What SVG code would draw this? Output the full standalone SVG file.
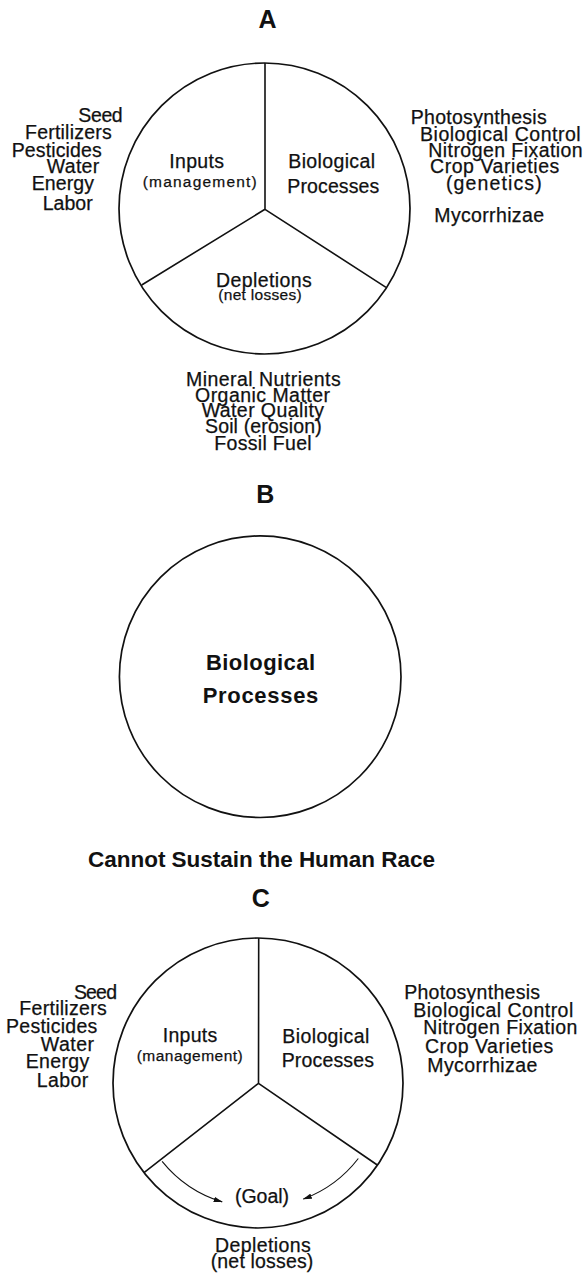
<svg xmlns="http://www.w3.org/2000/svg" width="587" height="1276" viewBox="0 0 587 1276">
  <style>
    text { font-family: "Liberation Sans", Arial, Helvetica, sans-serif; fill: #111; stroke: #111; stroke-width: 0.25; }
    .t { font-size: 19.5px; }
    .s { font-size: 15.5px; }
    .h { font-size: 25px; font-weight: bold; text-anchor: middle; stroke-width: 0; }
    .b { font-size: 22px; font-weight: bold; stroke-width: 0; }
    .ring { fill: none; stroke: #111; stroke-width: 1.7; }
    .spoke { fill: none; stroke: #111; stroke-width: 1.6; }
    .flow { fill: none; stroke: #111; stroke-width: 1.1; marker-end: url(#head); }
  </style>
  <defs>
    <marker id="head" viewBox="0 0 10 6" refX="9.5" refY="3" markerWidth="9" markerHeight="5.4" markerUnits="userSpaceOnUse" orient="auto">
      <path d="M0,0 L10,3 L0,6 z" fill="#111"/>
    </marker>
  </defs>
  <rect width="587" height="1276" fill="#fff"/>

  <!-- Panel A: three-part cycle -->
  <g id="panel-a">
    <text class="h" x="267.5" y="28.3">A</text>
    <g id="a-wheel">
      <circle class="ring" cx="264.5" cy="208.5" r="145.5"/>
      <path class="spoke" d="M265,63 L265,209.3 M265,209.3 L141.7,285 M265,209.3 L386,287.3"/>
    </g>
    <g id="a-inputs">
      <text class="t" x="169.3" y="168.3" textLength="54.7">Inputs</text>
      <text class="s" x="142.7" y="186.7" textLength="114">(management)</text>
    </g>
    <g id="a-bio">
      <text class="t" x="288.3" y="168.3" textLength="86.7">Biological</text>
      <text class="t" x="287.3" y="192.7" textLength="92">Processes</text>
    </g>
    <g id="a-depl">
      <text class="t" x="216" y="287" textLength="95.7">Depletions</text>
      <text class="s" x="218.3" y="300" textLength="83.4">(net losses)</text>
    </g>
    <g id="a-input-list">
      <text class="t" x="78.3" y="121.7" textLength="44.4">Seed</text>
      <text class="t" x="25" y="139.3" textLength="86.7">Fertilizers</text>
      <text class="t" x="11.7" y="156.7" textLength="90">Pesticides</text>
      <text class="t" x="46.7" y="173.3" textLength="52.6">Water</text>
      <text class="t" x="31.7" y="190" textLength="62.3">Energy</text>
      <text class="t" x="42.7" y="210" textLength="50">Labor</text>
    </g>
    <g id="a-bio-list">
      <text class="t" x="410.7" y="124" textLength="136">Photosynthesis</text>
      <text class="t" x="420" y="140.7" textLength="160.7">Biological Control</text>
      <text class="t" x="428.3" y="156.7" textLength="154.4">Nitrogen Fixation</text>
      <text class="t" x="430" y="173.3" textLength="129.3">Crop Varieties</text>
      <text class="t" x="446" y="190" textLength="95.7">(genetics)</text>
      <text class="t" x="434.3" y="221.7" textLength="109.7">Mycorrhizae</text>
    </g>
    <g id="a-depl-list">
      <text class="t" x="186" y="386" textLength="154.7">Mineral Nutrients</text>
      <text class="t" x="195" y="401.7" textLength="135">Organic Matter</text>
      <text class="t" x="201.7" y="417.3" textLength="122.3">Water Quality</text>
      <text class="t" x="205" y="433.3" textLength="116.7">Soil (erosion)</text>
      <text class="t" x="214.3" y="449.5" textLength="97.4">Fossil Fuel</text>
    </g>
  </g>

  <!-- Panel B: biology alone -->
  <g id="panel-b">
    <text class="h" x="265.3" y="503.3">B</text>
    <circle class="ring" cx="260.2" cy="676.7" r="140.8"/>
    <text class="b" x="206" y="670" textLength="109">Biological</text>
    <text class="b" x="202.7" y="703.3" textLength="115.6">Processes</text>
    <text class="b" x="88" y="867" textLength="347" style="font-size:22.5px">Cannot Sustain the Human Race</text>
  </g>

  <!-- Panel C: three-part cycle with goal -->
  <g id="panel-c">
    <text class="h" x="260.7" y="907.3">C</text>
    <g id="c-wheel">
      <circle class="ring" cx="258" cy="1083" r="145"/>
      <path class="spoke" d="M258.7,938 L258.5,1083.3 M258.5,1083.3 L144,1172.7 M258.5,1083.3 L377.3,1165"/>
    </g>
    <g id="c-inputs">
      <text class="t" x="162.7" y="1041.7" textLength="54.6">Inputs</text>
      <text class="s" x="136.7" y="1061" textLength="106">(management)</text>
    </g>
    <g id="c-bio">
      <text class="t" x="282.3" y="1043.3" textLength="87">Biological</text>
      <text class="t" x="281.7" y="1066.7" textLength="92.3">Processes</text>
    </g>
    <g id="c-goal">
      <text class="t" x="235" y="1203.3" textLength="54">(Goal)</text>
    </g>
    <g id="c-depl">
      <text class="t" x="215" y="1252.3" textLength="95.7">Depletions</text>
      <text class="t" x="210.7" y="1268.3" textLength="102.6">(net losses)</text>
    </g>
    <g id="c-input-list">
      <text class="t" x="73.9" y="999" textLength="43.1">Seed</text>
      <text class="t" x="19.3" y="1015" textLength="87.4">Fertilizers</text>
      <text class="t" x="6" y="1032.7" textLength="91.3">Pesticides</text>
      <text class="t" x="40.7" y="1051" textLength="53.3">Water</text>
      <text class="t" x="25.7" y="1067.7" textLength="63.6">Energy</text>
      <text class="t" x="36.7" y="1087.3" textLength="51.6">Labor</text>
    </g>
    <g id="c-bio-list">
      <text class="t" x="404.2" y="999" textLength="135.8">Photosynthesis</text>
      <text class="t" x="413.3" y="1016.7" textLength="160">Biological Control</text>
      <text class="t" x="423.3" y="1034.3" textLength="154">Nitrogen Fixation</text>
      <text class="t" x="425" y="1052.7" textLength="128.3">Crop Varieties</text>
      <text class="t" x="427.3" y="1071.7" textLength="110">Mycorrhizae</text>
    </g>
  </g>

  <!-- Connectors: both sectors curve toward the goal -->
  <g id="connectors">
    <path class="flow" d="M162.1,1161.3 A124,124 0 0,0 222.2,1201.9"/>
    <path class="flow" d="M358.3,1158.5 A124.5,124.5 0 0,1 303.3,1199.1"/>
  </g>
</svg>
